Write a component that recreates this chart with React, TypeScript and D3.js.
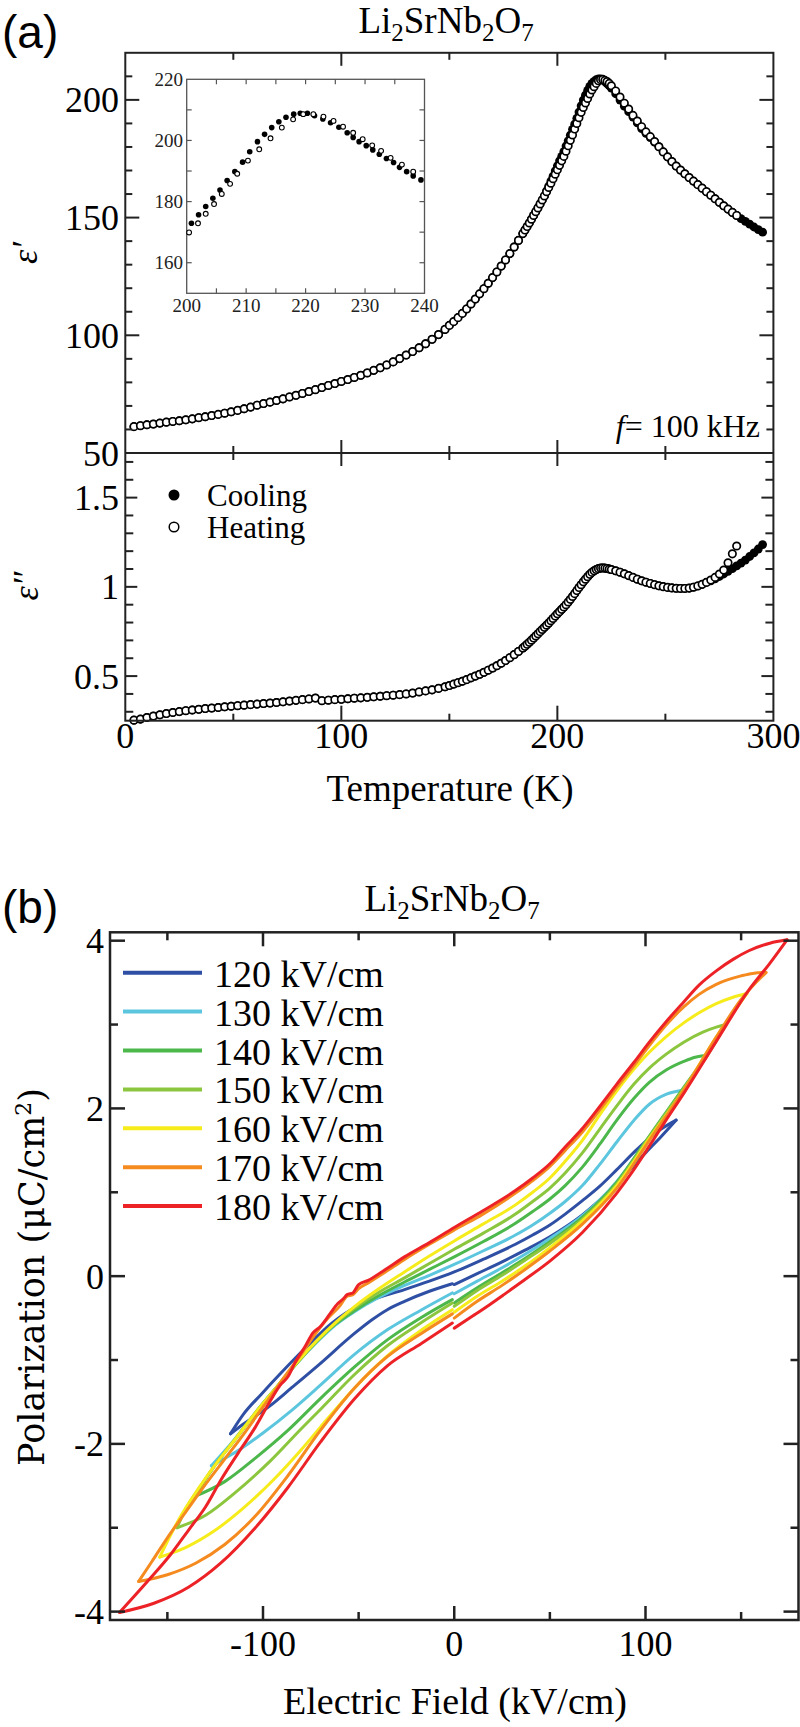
import React, { useEffect } from "react";
import * as d3 from "d3";

type Pt = [number, number];

// ---------- Panel (a): dielectric data ----------
const tempK = [
  4, 7, 10, 13, 16, 19, 22, 25, 28, 31, 34, 37, 40, 43, 46, 49, 52, 55, 58, 61, 64, 67, 70, 73, 76, 79, 82, 85, 88, 91,
  94, 97, 100, 103, 106, 109, 112, 115, 118, 121, 124, 127, 130, 133, 136, 139, 142, 145, 148,
  150, 152, 154, 156, 158, 160, 162, 164, 166, 168, 170, 172, 174, 176, 178, 180, 182, 184,
  185, 186, 187, 188, 189, 190, 191, 192, 193, 194, 195, 196, 197, 198, 199, 200, 201, 202, 203, 204, 205, 206, 207,
  208, 209, 210, 211, 212, 213, 214, 215, 216, 217, 218, 219, 220, 221, 222, 223, 224, 225,
  227, 229, 231, 233, 235, 237, 239, 241, 243, 245, 247, 249, 251, 253, 255, 257, 259, 261, 263, 265, 267, 269, 271,
  273, 275, 277, 279, 281, 283, 285, 287, 289, 291, 293, 295,
];

const epsRealHeat = [
  61.2, 61.6, 62.0, 62.3, 62.7, 63.1, 63.4, 63.7, 64.1, 64.5, 65.0, 65.4, 65.9, 66.4, 66.9, 67.5, 68.1, 68.8, 69.5, 70.3,
  71.0, 71.6, 72.3, 73.0, 73.8, 74.5, 75.3, 76.1, 76.9, 77.8, 78.7, 79.5, 80.4, 81.2, 82.1, 83.0, 84.0, 85.1, 86.2, 87.4,
  88.7, 90.1, 91.6, 93.1, 94.7, 96.4, 98.3, 100.3, 102.5,
  104.2, 105.8, 107.5, 109.3, 111.2, 113.3, 115.4, 117.6, 119.8, 122.1, 124.5, 126.9, 129.4, 132.0, 134.7, 137.5, 140.3, 143.2,
  144.7, 146.2, 147.7, 149.3, 150.9, 152.5, 154.1, 155.8, 157.5, 159.2, 161.0, 162.8, 164.6, 166.5, 168.4, 170.3, 172.2,
  174.1, 176.0, 178.2, 180.5, 182.8, 185.1, 187.6, 190.0, 192.4, 194.7, 196.8, 198.7, 200.6, 202.5, 204.2, 205.6, 207.0,
  208.1, 208.6, 208.7, 208.3, 207.8, 207.0, 206.0,
  203.8, 201.2, 198.6, 196.1, 193.4, 191.0, 188.6, 186.4, 184.4, 182.3, 180.1, 177.9, 175.8, 173.8, 171.9, 170.2, 168.6,
  167.0, 165.5, 164.0, 162.5, 161.0, 159.5, 158.0, 156.5, 155.0, 153.6, 152.2, 150.9,
];

const epsRealCool = [
  61.2, 61.6, 62.0, 62.3, 62.7, 63.1, 63.4, 63.7, 64.1, 64.5, 65.0, 65.4, 65.9, 66.4, 66.9, 67.5, 68.1, 68.8, 69.5, 70.3,
  71.0, 71.6, 72.3, 73.0, 73.8, 74.5, 75.3, 76.1, 76.9, 77.8, 78.7, 79.5, 80.4, 81.2, 82.1, 83.0, 84.0, 85.1, 86.2, 87.4,
  88.7, 90.1, 91.6, 93.1, 94.7, 96.4, 98.3, 100.3, 102.5,
  104.2, 105.8, 107.5, 109.3, 111.2, 113.3, 115.4, 117.6, 119.8, 122.1, 124.5, 126.9, 129.4, 132.0, 134.7, 137.5, 140.3, 143.2,
  144.7, 146.2, 147.7, 149.3, 150.9, 152.5, 154.1, 155.8, 157.5, 159.2,
  161.4, 163.4, 165.5, 167.6, 169.8, 172.0, 174.1, 176.0, 178.0, 180.4, 182.6, 185.0, 187.5, 189.7, 192.2, 194.8, 197.5,
  199.9, 202.0, 204.0, 205.7, 207.0, 207.9, 208.6, 208.9, 208.9, 208.5, 207.7, 206.9, 206.0, 205.0,
  202.6, 199.9, 197.3, 195.0, 192.7, 190.2, 187.8, 185.8, 184.0, 182.0,
  180.1, 177.9, 175.8, 173.8, 171.9, 170.2, 168.6, 167.0, 165.5, 164.0, 162.5, 161.0, 159.5, 158.0, 156.5, 155.0, 153.6,
  152.2, 150.9, 149.6, 148.4, 147.2, 146.0, 144.9, 143.8,
];

const epsImagHeat = [
  0.253, 0.259, 0.268, 0.276, 0.283, 0.29, 0.296, 0.301, 0.306, 0.31, 0.314, 0.318, 0.321, 0.324, 0.328, 0.331, 0.334,
  0.337, 0.34, 0.343, 0.346, 0.349, 0.352, 0.356, 0.36, 0.364, 0.368, 0.372, 0.377, 0.362, 0.365, 0.368, 0.37, 0.373,
  0.376, 0.378, 0.381, 0.384, 0.387, 0.39, 0.393, 0.396, 0.4, 0.405, 0.411, 0.417, 0.423, 0.431, 0.44,
  0.447, 0.455, 0.463, 0.471, 0.48, 0.49, 0.5, 0.51, 0.521, 0.533, 0.545, 0.558, 0.572, 0.587, 0.603, 0.62, 0.638, 0.657,
  0.667, 0.678, 0.689, 0.701, 0.713, 0.725, 0.737, 0.749, 0.761, 0.773, 0.785, 0.797, 0.81, 0.823, 0.836, 0.849, 0.861,
  0.874, 0.887, 0.9, 0.915, 0.93, 0.946, 0.962, 0.979, 0.996, 1.012, 1.028, 1.043, 1.057, 1.07, 1.081, 1.09, 1.097, 1.102,
  1.105, 1.106, 1.105, 1.103, 1.1, 1.097,
  1.09, 1.082, 1.073, 1.063, 1.053, 1.043, 1.034, 1.026, 1.019, 1.012, 1.006, 1.001, 0.997, 0.994, 0.992, 0.991, 0.991,
  0.993, 0.998, 1.005, 1.014, 1.025, 1.038, 1.053, 1.072, 1.094, 1.135, 1.185, 1.229,
];

const epsImagCool = [
  0.253, 0.259, 0.268, 0.276, 0.283, 0.29, 0.296, 0.301, 0.306, 0.31, 0.314, 0.318, 0.321, 0.324, 0.328, 0.331, 0.334,
  0.337, 0.34, 0.343, 0.346, 0.349, 0.352, 0.356, 0.36, 0.364, 0.368, 0.372, 0.377, 0.362, 0.365, 0.368, 0.37, 0.373,
  0.376, 0.378, 0.381, 0.384, 0.387, 0.39, 0.393, 0.396, 0.4, 0.405, 0.411, 0.417, 0.423, 0.431, 0.44,
  0.447, 0.455, 0.463, 0.471, 0.48, 0.49, 0.5, 0.51, 0.521, 0.533, 0.545, 0.558, 0.572, 0.587, 0.603, 0.62, 0.638, 0.657,
  0.667, 0.678, 0.689, 0.701, 0.713, 0.725, 0.737, 0.749, 0.761, 0.773, 0.785, 0.797, 0.81, 0.823, 0.836, 0.849, 0.861,
  0.874, 0.887, 0.9, 0.915, 0.93, 0.946, 0.962, 0.979, 0.996, 1.012, 1.028, 1.043, 1.057, 1.07, 1.081, 1.09, 1.097, 1.102,
  1.105, 1.106, 1.105, 1.103, 1.1, 1.097,
  1.09, 1.082, 1.073, 1.063, 1.053, 1.043, 1.034, 1.026, 1.019, 1.012, 1.006, 1.001, 0.997, 0.994, 0.992, 0.991, 0.991,
  0.993, 0.998, 1.005, 1.014, 1.025,
  1.033, 1.045, 1.058, 1.072, 1.087, 1.102, 1.117, 1.133, 1.15, 1.17, 1.19, 1.212, 1.237,
];

// Inset (zoom of the peak)
const insetTempCool = [200.8, 202.0, 203.2, 204.4, 205.6, 206.8, 208.1, 209.4, 210.6, 211.9, 213.1, 214.3, 215.5, 216.7, 218.0, 219.1, 220.3, 221.5, 222.9, 224.2, 225.6, 227.0, 228.0, 229.0, 230.2, 231.3, 232.4, 233.6, 234.8, 235.8, 237.0, 238.1, 239.4];
const insetEpsCool = [172.9, 175.7, 178.4, 181.1, 183.8, 186.9, 189.8, 192.9, 196.3, 199.6, 202.0, 204.2, 206.1, 207.6, 208.6, 208.9, 208.9, 208.1, 207.0, 205.8, 204.3, 202.5, 201.0, 199.6, 198.3, 196.9, 195.5, 194.1, 192.8, 191.2, 189.8, 188.4, 187.1];
const insetTempHeat = [200.4, 201.9, 203.2, 204.6, 205.9, 207.3, 208.5, 210.3, 212.2, 214.1, 216.0, 217.9, 219.6, 221.3, 223.0, 224.7, 226.3, 228.0, 229.6, 231.2, 232.7, 234.3, 236.2, 238.1];
const insetEpsHeat = [169.9, 172.9, 176.0, 179.2, 182.5, 185.8, 189.1, 193.4, 197.1, 200.7, 204.2, 206.9, 208.6, 208.6, 207.8, 206.4, 204.5, 202.5, 200.4, 198.4, 196.6, 194.3, 192.1, 189.8];

const tempTicks = [0, 100, 200, 300];
const epsRealTicks = [50, 100, 150, 200];
const epsImagTicks = [0.5, 1, 1.5];
const insetTempTicks = [200, 210, 220, 230, 240];
const insetEpsTicks = [160, 180, 200, 220];

// ---------- Panel (b): P-E loops ----------
const fieldLabels = ["120 kV/cm", "130 kV/cm", "140 kV/cm", "150 kV/cm", "160 kV/cm", "170 kV/cm", "180 kV/cm"];
const fieldTicks = [-100, 0, 100];
const polTicks = [-4, -2, 0, 2, 4];

const upper120: Pt[] = [[116, 1.86], [106, 1.72], [95, 1.5], [85, 1.27], [76, 1.07], [67, 0.9], [58, 0.74], [50, 0.61], [41, 0.49], [32, 0.38], [15, 0.2], [0, 0.05], [-13, -0.06], [-26, -0.16], [-40, -0.26], [-50, -0.35], [-64, -0.56], [-78, -0.86], [-90, -1.14], [-101, -1.41], [-110, -1.64], [-117, -1.88]];
const lowerLeft120: Pt[] = [[-117, -1.88], [-110, -1.76], [-96, -1.54], [-85, -1.33], [-71, -1.06], [-52, -0.68], [-43, -0.52], [-35, -0.4], [-26, -0.3], [-13, -0.18], [-1, -0.09]];
const lowerRight120: Pt[] = [[0, -0.1], [12, 0.03], [25, 0.17], [37, 0.31], [50, 0.47], [67, 0.73], [85, 1.1], [100, 1.47], [108, 1.66], [116, 1.86]];

const upper130: Pt[] = [[120, 2.22], [111, 2.17], [102, 2.05], [94, 1.86], [85, 1.6], [76, 1.33], [67, 1.08], [58, 0.89], [50, 0.75], [41, 0.61], [32, 0.49], [15, 0.3], [0, 0.14], [-13, 0.01], [-26, -0.11], [-40, -0.26], [-52, -0.42], [-62, -0.58], [-72, -0.79], [-82, -1.03], [-92, -1.3], [-104, -1.63], [-115, -1.95], [-127, -2.26]];
const lowerLeft130: Pt[] = [[-127, -2.26], [-113, -2.08], [-100, -1.87], [-85, -1.6], [-70, -1.3], [-52, -0.93], [-35, -0.64], [-17, -0.4], [-1, -0.2]];
const lowerRight130: Pt[] = [[0, -0.21], [12, -0.06], [25, 0.1], [37, 0.26], [50, 0.45], [67, 0.72], [85, 1.13], [102, 1.66], [112, 1.95], [120, 2.22]];

const upper140: Pt[] = [[132, 2.63], [126, 2.61], [120, 2.56], [111, 2.46], [102, 2.31], [94, 2.12], [85, 1.86], [76, 1.57], [67, 1.3], [58, 1.08], [50, 0.92], [41, 0.77], [32, 0.63], [15, 0.41], [0, 0.23], [-13, 0.08], [-26, -0.07], [-40, -0.24], [-52, -0.41], [-62, -0.57], [-72, -0.78], [-82, -1.03], [-92, -1.3], [-104, -1.63], [-114, -1.93], [-125, -2.25], [-136, -2.63]];
const lowerLeft140: Pt[] = [[-136, -2.63], [-120, -2.45], [-104, -2.17], [-87, -1.84], [-70, -1.46], [-52, -1.08], [-35, -0.76], [-17, -0.49], [-1, -0.28]];
const lowerRight140: Pt[] = [[0, -0.32], [12, -0.14], [25, 0.04], [37, 0.21], [50, 0.41], [67, 0.7], [85, 1.12], [102, 1.67], [120, 2.25], [132, 2.63]];

const upper150: Pt[] = [[142, 3.0], [137, 2.97], [130, 2.91], [120, 2.79], [111, 2.65], [102, 2.48], [94, 2.29], [85, 2.03], [76, 1.75], [67, 1.47], [58, 1.23], [50, 1.05], [41, 0.89], [32, 0.74], [15, 0.51], [0, 0.32], [-13, 0.15], [-26, -0.02], [-40, -0.2], [-52, -0.38], [-62, -0.56], [-72, -0.78], [-82, -1.03], [-92, -1.3], [-104, -1.63], [-114, -1.93], [-124, -2.22], [-134, -2.55], [-140, -2.76], [-145, -3.0]];
const lowerLeft150: Pt[] = [[-145, -3.0], [-130, -2.85], [-115, -2.59], [-96, -2.2], [-80, -1.82], [-70, -1.59], [-52, -1.17], [-35, -0.83], [-17, -0.55], [-1, -0.32]];
const lowerRight150: Pt[] = [[0, -0.36], [12, -0.17], [25, 0.01], [37, 0.19], [50, 0.39], [67, 0.68], [85, 1.1], [102, 1.66], [120, 2.24], [132, 2.62], [142, 3.0]];

const upper160: Pt[] = [[153, 3.37], [145, 3.32], [137, 3.25], [128, 3.14], [120, 3.02], [111, 2.86], [102, 2.67], [94, 2.47], [85, 2.21], [76, 1.92], [67, 1.62], [58, 1.37], [50, 1.17], [41, 1.0], [32, 0.85], [15, 0.62], [0, 0.42], [-13, 0.24], [-26, 0.05], [-40, -0.16], [-52, -0.36], [-62, -0.55], [-72, -0.77], [-82, -1.02], [-92, -1.3], [-104, -1.63], [-114, -1.93], [-124, -2.22], [-134, -2.54], [-144, -2.9], [-154, -3.35]];
const lowerLeft160: Pt[] = [[-154, -3.35], [-140, -3.23], [-125, -3.03], [-110, -2.76], [-95, -2.44], [-80, -2.07], [-70, -1.8], [-52, -1.33], [-35, -0.95], [-17, -0.64], [-1, -0.4]];
const lowerRight160: Pt[] = [[0, -0.43], [12, -0.24], [25, -0.06], [37, 0.12], [50, 0.34], [67, 0.66], [85, 1.08], [102, 1.64], [120, 2.22], [137, 2.85], [153, 3.37]];

const upper170: Pt[] = [[163, 3.62], [156, 3.61], [150, 3.58], [137, 3.48], [128, 3.36], [120, 3.21], [111, 3.0], [102, 2.75], [94, 2.51], [85, 2.25], [76, 1.98], [67, 1.72], [58, 1.5], [50, 1.31], [41, 1.14], [32, 0.99], [15, 0.74], [0, 0.55], [-13, 0.38], [-26, 0.2], [-36, 0.05], [-45, -0.08], [-50, -0.15], [-53, -0.22], [-56, -0.24], [-60, -0.36], [-66, -0.5], [-72, -0.67], [-80, -0.93], [-90, -1.24], [-100, -1.56], [-110, -1.88], [-120, -2.18], [-130, -2.48], [-140, -2.8], [-150, -3.12], [-158, -3.4], [-165, -3.64]];
const lowerLeft170: Pt[] = [[-165, -3.64], [-150, -3.56], [-135, -3.42], [-120, -3.2], [-104, -2.86], [-87, -2.38], [-70, -1.84], [-52, -1.33], [-35, -0.96], [-17, -0.68], [-1, -0.45]];
const lowerRight170: Pt[] = [[0, -0.5], [12, -0.3], [25, -0.11], [37, 0.08], [50, 0.3], [67, 0.62], [85, 1.05], [102, 1.62], [120, 2.22], [137, 2.85], [150, 3.3], [163, 3.62]];

const upper180: Pt[] = [[174, 4.01], [165, 3.97], [154, 3.88], [146, 3.78], [137, 3.64], [128, 3.47], [120, 3.27], [111, 3.04], [102, 2.79], [94, 2.55], [85, 2.29], [76, 2.02], [67, 1.76], [58, 1.54], [50, 1.34], [41, 1.17], [32, 1.02], [15, 0.78], [0, 0.58], [-13, 0.4], [-26, 0.23], [-36, 0.08], [-45, -0.05], [-50, -0.1], [-53, -0.2], [-56, -0.22], [-58, -0.27], [-61, -0.33], [-65, -0.45], [-70, -0.6], [-74, -0.68], [-78, -0.84], [-83, -1.02], [-87, -1.2], [-91, -1.3], [-96, -1.48], [-104, -1.8], [-113, -2.11], [-122, -2.43], [-130, -2.75], [-139, -3.03], [-148, -3.31], [-160, -3.63], [-175, -4.01]];
const lowerLeft180: Pt[] = [[-175, -4.01], [-157, -3.9], [-139, -3.71], [-122, -3.42], [-104, -3.0], [-87, -2.52], [-70, -1.98], [-52, -1.46], [-35, -1.07], [-17, -0.8], [-1, -0.56]];
const lowerRight180: Pt[] = [[0, -0.62], [10, -0.47], [18.5, -0.34], [26, -0.22], [37, -0.04], [50, 0.18], [67, 0.52], [85, 0.99], [93, 1.24], [102, 1.55], [111, 1.87], [120, 2.18], [137, 2.8], [154, 3.41], [165, 3.73], [174, 4.01]];

const loopColors = ["#2e4fa3", "#5cc6de", "#4cb74a", "#8cc63e", "#f7ec1b", "#f58a1f", "#ec2227"];

const SERIF = "'Liberation Serif', 'Times New Roman', Times, serif";
const SANS = "'Liberation Sans', Arial, Helvetica, sans-serif";
const WIDE_SERIF = "'DejaVu Serif', 'Liberation Serif', serif";

export default function App() {
  useEffect(() => {
    document.body.style.margin = "0";
  }, []);

  // scales
  const tx = d3.scaleLinear().domain([0, 300]).range([125.3, 773.4]);
  const yRe = d3.scaleLinear().domain([50, 220]).range([453, 52.8]);
  const yIm = d3.scaleLinear().domain([0.25, 1.75]).range([720.7, 453]);
  const ix = d3.scaleLinear().domain([200, 240]).range([186.7, 424.5]);
  const iy = d3.scaleLinear().domain([150, 220]).range([293.3, 79.3]);
  const ex = d3.scaleLinear().domain([-180, 180]).range([110, 798.5]);
  const py = d3.scaleLinear().domain([-4.1, 4.1]).range([1620, 932.3]);

  const loops = [
    { upper: upper120, left: lowerLeft120, right: lowerRight120 },
    { upper: upper130, left: lowerLeft130, right: lowerRight130 },
    { upper: upper140, left: lowerLeft140, right: lowerRight140 },
    { upper: upper150, left: lowerLeft150, right: lowerRight150 },
    { upper: upper160, left: lowerLeft160, right: lowerRight160 },
    { upper: upper170, left: lowerLeft170, right: lowerRight170 },
    { upper: upper180, left: lowerLeft180, right: lowerRight180 },
  ].map((l, i) => ({ ...l, color: loopColors[i], label: fieldLabels[i] }));

  const lineGen = d3
    .line<Pt>()
    .x((d) => ex(d[0]))
    .y((d) => py(d[1]))
    .curve(d3.curveMonotoneX);
  const asc = (pts: Pt[]) => [...pts].sort((a, b) => a[0] - b[0]);

  const hT = (scale: (v: number) => number, vals: number[], y: number, len: number, dir: number, k: string) =>
    vals.map((v) => <line key={k + v} x1={scale(v)} x2={scale(v)} y1={y} y2={y + dir * len} />);
  const vT = (scale: (v: number) => number, vals: number[], x: number, len: number, dir: number, k: string) =>
    vals.map((v) => <line key={k + v} x1={x} x2={x + dir * len} y1={scale(v)} y2={scale(v)} />);

  const xMinorA = [50, 150, 250];
  const xMajorA = [100, 200];
  const reMinor = d3.range(60, 220, 10).filter((v) => v % 50 !== 0);
  const reMajor = [100, 150, 200];
  const imMinor = d3
    .range(0.3, 1.75, 0.1)
    .map((v) => Math.round(v * 10) / 10)
    .filter((v) => Math.abs(v * 2 - Math.round(v * 2)) > 1e-6);
  const inX = d3.range(205, 240, 5);
  const inY = d3.range(160, 220, 10);
  const exMinor = [-150, -50, 50, 150];
  const pyMinor = [-3, -1, 1, 3];

  const L = 125.3,
    R = 773.4,
    T = 52.8,
    MID = 453,
    B = 720.7;
  const bL = 110,
    bR = 798.5,
    bT = 932.3,
    bB = 1620;

  const heatN = epsRealHeat.length;

  const formula = (size: number, sub: number) => (
    <>
      <tspan>Li</tspan>
      <tspan fontSize={sub} dy={size * 0.22}>2</tspan>
      <tspan dy={-size * 0.22}>SrNb</tspan>
      <tspan fontSize={sub} dy={size * 0.22}>2</tspan>
      <tspan dy={-size * 0.22}>O</tspan>
      <tspan fontSize={sub} dy={size * 0.22}>7</tspan>
    </>
  );

  return (
    <svg
      width={800}
      height={1727}
      viewBox="0 0 800 1727"
      style={{ display: "block", position: "absolute", left: 0, top: 0 }}
      fontFamily={SERIF}
    >
      <rect x={0} y={0} width={800} height={1727} fill="#fff" />

      {/* ===== Panel (a) ===== */}
      <text x={2} y={48} fontFamily={SANS} fontSize={46}>(a)</text>
      <text x={446} y={33} fontFamily={SERIF} fontSize={37} textAnchor="middle">{formula(37, 25)}</text>

      {/* data: epsilon' */}
      <g>
        {tempK.map((t, i) => (
          <circle key={"rc" + i} cx={tx(t)} cy={yRe(epsRealCool[i])} r={4.4} fill="#000" />
        ))}
        {tempK.slice(0, heatN).map((t, i) => (
          <circle key={"rh" + i} cx={tx(t)} cy={yRe(epsRealHeat[i])} r={3.7} fill="#fff" stroke="#000" strokeWidth={1.7} />
        ))}
      </g>
      {/* data: epsilon'' */}
      <g>
        {tempK.map((t, i) => (
          <circle key={"ic" + i} cx={tx(t)} cy={yIm(epsImagCool[i])} r={4.4} fill="#000" />
        ))}
        {tempK.slice(0, epsImagHeat.length).map((t, i) => (
          <circle key={"ih" + i} cx={tx(t)} cy={yIm(epsImagHeat[i])} r={3.7} fill="#fff" stroke="#000" strokeWidth={1.7} />
        ))}
      </g>

      {/* frame & ticks (a) */}
      <g stroke="#222" strokeWidth={2} fill="none">
        <rect x={L} y={T} width={R - L} height={B - T} />
        <line x1={L} x2={R} y1={MID} y2={MID} />
        {hT(tx, xMajorA, T, 13, 1, "tM")}
        {hT(tx, xMinorA, T, 7, 1, "tm")}
        {hT(tx, xMajorA, MID, 13, 1, "mM1")}
        {hT(tx, xMajorA, MID, 13, -1, "mM2")}
        {hT(tx, xMinorA, MID, 7, 1, "mm1")}
        {hT(tx, xMinorA, MID, 7, -1, "mm2")}
        {hT(tx, xMajorA, B, 15, -1, "bM")}
        {hT(tx, xMinorA, B, 7, -1, "bm")}
        {vT(yRe, reMajor, L, 14, 1, "lM")}
        {vT(yRe, reMinor, L, 7, 1, "lm")}
        {vT(yRe, reMajor, R, 14, -1, "rM")}
        {vT(yRe, reMinor, R, 7, -1, "rm")}
        {vT(yIm, epsImagTicks, L, 12, 1, "lIM")}
        {vT(yIm, imMinor, L, 8, 1, "lIm")}
        {vT(yIm, epsImagTicks, R, 12, -1, "rIM")}
        {vT(yIm, imMinor, R, 8, -1, "rIm")}
      </g>

      {/* tick labels (a) */}
      <g fontSize={36} fontFamily={SERIF}>
        {epsRealTicks.map((v) => (
          <text key={"rl" + v} x={119} y={yRe(v)} dy="0.35em" textAnchor="end">{v}</text>
        ))}
        {epsImagTicks.map((v) => (
          <text key={"il" + v} x={119} y={yIm(v)} dy="0.35em" textAnchor="end">{v}</text>
        ))}
        {tempTicks.map((v) => (
          <text key={"tl" + v} x={tx(v)} y={748} textAnchor="middle">{v}</text>
        ))}
      </g>
      <text x={450} y={801} fontFamily={SERIF} fontSize={37} textAnchor="middle">Temperature (K)</text>
      <text transform="translate(37,253) rotate(-90)" fontFamily={SERIF} fontSize={36} fontStyle="italic" textAnchor="middle">ε′</text>
      <text transform="translate(38,586) rotate(-90)" fontFamily={SERIF} fontSize={36} fontStyle="italic" textAnchor="middle">ε″</text>
      <text x={760} y={437} fontFamily={SERIF} fontSize={32} textAnchor="end">
        <tspan fontStyle="italic">f</tspan>= 100 kHz
      </text>

      {/* legend (a) */}
      <circle cx={174} cy={495} r={5.5} fill="#000" />
      <circle cx={174} cy={527} r={4.8} fill="#fff" stroke="#000" strokeWidth={1.5} />
      <text x={207} y={506} fontFamily={SERIF} fontSize={31}>Cooling</text>
      <text x={207} y={538} fontFamily={SERIF} fontSize={31}>Heating</text>

      {/* inset */}
      <g>
        <rect x={ix(200)} y={iy(220)} width={ix(240) - ix(200)} height={iy(150) - iy(220)} fill="#fff" stroke="#555" strokeWidth={1.3} />
        <g stroke="#555" strokeWidth={1.2}>
          {hT(ix, inX, iy(150), 5, -1, "ib")}
          {hT(ix, inX, iy(220), 5, 1, "it")}
          {vT(iy, inY, ix(200), 5, 1, "il")}
          {vT(iy, inY, ix(240), 5, -1, "ir")}
        </g>
        {insetTempCool.map((t, i) => (
          <circle key={"icc" + i} cx={ix(t)} cy={iy(insetEpsCool[i])} r={2.8} fill="#000" />
        ))}
        {insetTempHeat.map((t, i) => (
          <circle key={"ich" + i} cx={ix(t)} cy={iy(insetEpsHeat[i])} r={2.4} fill="#fff" stroke="#000" strokeWidth={1.1} />
        ))}
        <g fontSize={19} fill="#222" fontFamily={SERIF}>
          {insetTempTicks.map((v) => (
            <text key={"itl" + v} x={ix(v)} y={312} textAnchor="middle">{v}</text>
          ))}
          {insetEpsTicks.map((v) => (
            <text key={"iyl" + v} x={183} y={iy(v)} dy="0.35em" textAnchor="end">{v}</text>
          ))}
        </g>
      </g>

      {/* ===== Panel (b) ===== */}
      <text x={2} y={923} fontFamily={SANS} fontSize={46}>(b)</text>
      <text x={452} y={911} fontFamily={SERIF} fontSize={37} textAnchor="middle">{formula(37, 25)}</text>

      <g fill="none" strokeWidth={3} strokeLinecap="round" strokeLinejoin="round">
        {loops.map((l, i) => (
          <g key={"loop" + i} stroke={l.color}>
            <path d={lineGen(asc(l.right)) || ""} />
            <path d={lineGen(asc(l.upper)) || ""} />
            <path d={lineGen(asc(l.left)) || ""} />
          </g>
        ))}
      </g>

      <g stroke="#222" strokeWidth={2.5} fill="none">
        <rect x={bL} y={bT} width={bR - bL} height={bB - bT} />
        {hT(ex, fieldTicks, bB, 14, -1, "bxM")}
        {hT(ex, exMinor, bB, 8, -1, "bxm")}
        {hT(ex, fieldTicks, bT, 14, 1, "txM")}
        {hT(ex, exMinor, bT, 8, 1, "txm")}
        {vT(py, polTicks, bL, 15, 1, "lyM")}
        {vT(py, pyMinor, bL, 8, 1, "lym")}
        {vT(py, polTicks, bR, 15, -1, "ryM")}
        {vT(py, pyMinor, bR, 8, -1, "rym")}
      </g>

      <g fontSize={36} fontFamily={SERIF}>
        {polTicks.map((v) => (
          <text key={"pl" + v} x={104} y={py(v)} dy="0.35em" textAnchor="end">{v}</text>
        ))}
        {fieldTicks.map((v) => (
          <text key={"el" + v} x={ex(v)} y={1656} textAnchor="middle">{v}</text>
        ))}
      </g>

      {/* legend (b) */}
      {loops.map((l, i) => (
        <g key={"leg" + i}>
          <line x1={123} x2={202} y1={972.7 + i * 38.9} y2={972.7 + i * 38.9} stroke={l.color} strokeWidth={4} />
          <text x={214} y={972.7 + i * 38.9 + 14} fontFamily={SERIF} fontSize={38}>{l.label}</text>
        </g>
      ))}

      <text x={455} y={1714} fontFamily={SERIF} fontSize={38} textAnchor="middle">Electric Field (kV/cm)</text>
      <text transform="translate(44,1277) rotate(-90)" fontFamily={WIDE_SERIF} fontSize={35} textAnchor="middle">
        Polarization (μC/cm<tspan dy={-13} fontSize={22}>2</tspan>
        <tspan dy={13}>)</tspan>
      </text>
    </svg>
  );
}
